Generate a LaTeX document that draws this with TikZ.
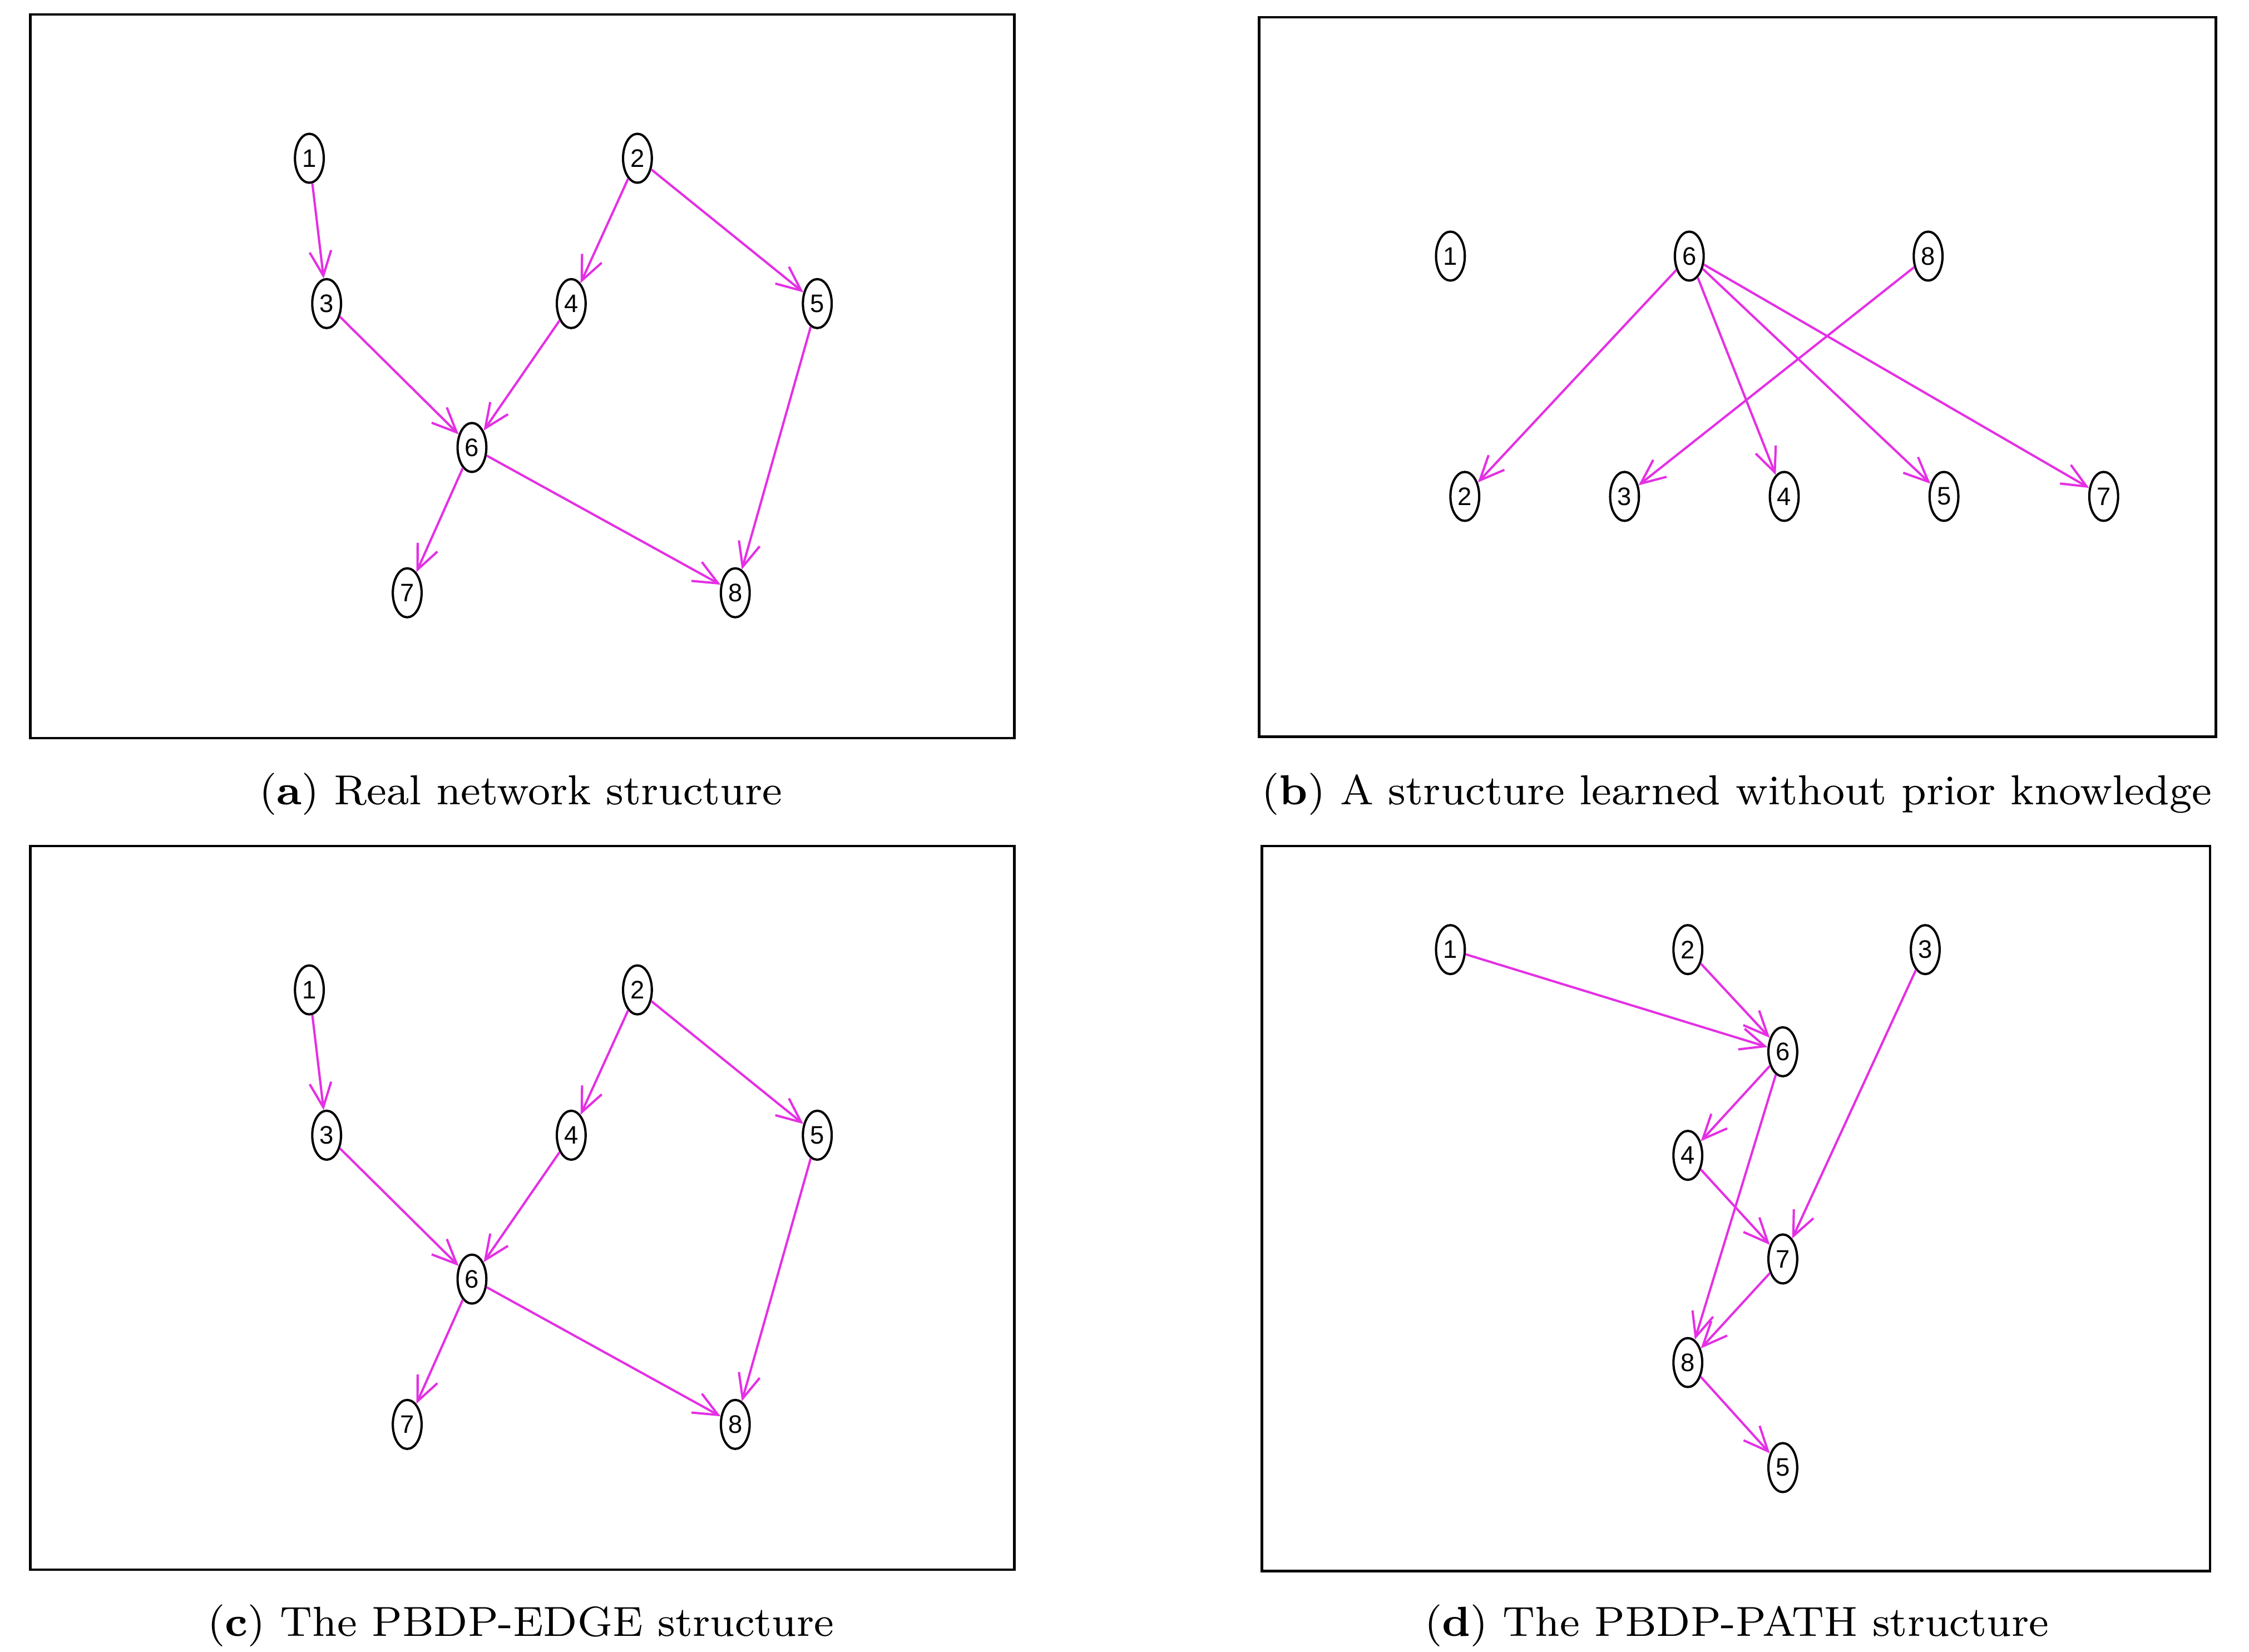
\documentclass[tikz,border=0pt]{standalone}
\usepackage{fontspec}
\usetikzlibrary{shapes.geometric,arrows.meta}
\newfontfamily\lsans{Liberation Sans}
\definecolor{mag}{RGB}{228,48,228}
\begin{document}
\begin{tikzpicture}[x=0.01cm,y=-0.01cm,
 nd/.style={ellipse,draw,line width=0.45pt,minimum width=0.2cm,minimum height=0.34cm,inner sep=0pt,font=\lsans\fontsize{5}{6}\selectfont},
 ed/.style={draw=mag,line width=0.45pt,-{Straight Barb[length=0.17cm,width=0.15cm,line width=0.45pt]}},
 box/.style={draw,line width=0.5pt},
 captxt/.style={font=\fontsize{8.3}{10}\selectfont}]
\useasboundingbox (0,0) rectangle (1563,1148);
% panel a
\draw[box] (21,10) rectangle (705,513);
\node[nd] (a1) at (215,110) {1}; \node[nd] (a2) at (443,110) {2};
\node[nd] (a3) at (227,211) {3}; \node[nd] (a4) at (397,211) {4};
\node[nd] (a5) at (568,211) {5}; \node[nd] (a6) at (328,311) {6};
\node[nd] (a7) at (283,412) {7}; \node[nd] (a8) at (511,412) {8};
\foreach \s/\t in {1/3,2/4,2/5,3/6,4/6,5/8,6/7,6/8} \draw[ed] (a\s) -- (a\t);
\node[captxt] (ca) at (362,552) {(\textbf{a}) Real network structure};
% panel b
\draw[box] (875,12) rectangle (1540,512);
\node[nd] (b1) at (1008,178) {1}; \node[nd] (b6) at (1174,178) {6};
\node[nd] (b8) at (1340,178) {8}; \node[nd] (b2) at (1018,345) {2};
\node[nd] (b3) at (1129,345) {3}; \node[nd] (b4) at (1240,345) {4};
\node[nd] (b5) at (1351,345) {5}; \node[nd] (b7) at (1462,345) {7};
\foreach \s/\t in {6/2,6/4,6/5,6/7,8/3} \draw[ed] (b\s) -- (b\t);
\node[captxt] (cb) at (1207,552) {(\textbf{b}) A structure learned without prior knowledge};
% panel c
\draw[box] (21,588) rectangle (705,1091);
\node[nd] (c1) at (215,688) {1}; \node[nd] (c2) at (443,688) {2};
\node[nd] (c3) at (227,789) {3}; \node[nd] (c4) at (397,789) {4};
\node[nd] (c5) at (568,789) {5}; \node[nd] (c6) at (328,889) {6};
\node[nd] (c7) at (283,990) {7}; \node[nd] (c8) at (511,990) {8};
\foreach \s/\t in {1/3,2/4,2/5,3/6,4/6,5/8,6/7,6/8} \draw[ed] (c\s) -- (c\t);
\node[captxt] (cc) at (362,1130) {(\textbf{c}) The PBDP-EDGE structure};
% panel d
\draw[box] (877,588) rectangle (1536,1092);
\node[nd] (d1) at (1008,660) {1}; \node[nd] (d2) at (1173,660) {2};
\node[nd] (d3) at (1338,660) {3}; \node[nd] (d6) at (1239,731) {6};
\node[nd] (d4) at (1173,803) {4}; \node[nd] (d7) at (1239,875) {7};
\node[nd] (d8) at (1173,947) {8}; \node[nd] (d5) at (1239,1020) {5};
\foreach \s/\t in {1/6,2/6,6/4,6/8,3/7,4/7,7/8,8/5} \draw[ed] (d\s) -- (d\t);
\node[captxt] (cd) at (1207,1130) {(\textbf{d}) The PBDP-PATH structure};
\end{tikzpicture}
\end{document}
